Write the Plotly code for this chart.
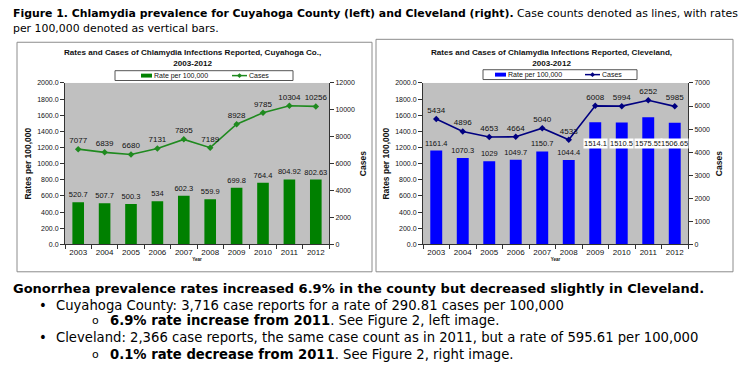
import plotly.graph_objects as go

# ---------------- data ----------------
YEARS = ["2003", "2004", "2005", "2006", "2007", "2008", "2009", "2010", "2011", "2012"]
CUY_RATE = [520.7, 507.7, 500.3, 534, 602.3, 559.9, 699.8, 764.4, 804.92, 802.63]
CUY_CASES = [7077, 6839, 6680, 7131, 7805, 7189, 8928, 9785, 10304, 10256]
CLE_RATE = [1161.4, 1070.3, 1029, 1049.7, 1150.7, 1044.4, 1514.1, 1510.5, 1575.55, 1506.65]
CLE_CASES = [5434, 4896, 4653, 4664, 5040, 4533, 6008, 5994, 6252, 5985]
RATE_TICKS = [0, 200, 400, 600, 800, 1000, 1200, 1400, 1600, 1800, 2000]
CUY_CASE_TICKS = [0, 2000, 4000, 6000, 8000, 10000, 12000]
CLE_CASE_TICKS = [0, 1000, 2000, 3000, 4000, 5000, 6000, 7000]

# ---------------- layout helpers ----------------
W, H = 745, 367
FONT = "Liberation Sans, Arial, sans-serif"
DOC = "DejaVu Sans, Verdana, sans-serif"
BOXED_FROM = "2009"       # Cleveland bar labels drawn in white boxes from this year
BOXED_LABEL_LEVEL = 1245  # rate level where those boxed labels sit


def fx(p):
    return p / W


def fy(p):
    return 1 - p / H


def lbl(v):
    return f"{v:g}"


GREEN_BAR = "#008000"
GREEN_LINE = "#1f8a1f"
BLUE_BAR = "#0000FF"
NAVY_LINE = "#000080"
AX = "#333333"

fig = go.Figure()

# Cuyahoga bars + line
fig.add_bar(x=YEARS, y=CUY_RATE, xaxis="x", yaxis="y", width=0.44,
            marker=dict(color=GREEN_BAR, line_width=0),
            text=[lbl(v) for v in CUY_RATE], textposition="outside",
            constraintext="none", cliponaxis=False,
            textfont=dict(size=7.5, color="#111", family=FONT), showlegend=False)
fig.add_scatter(x=YEARS, y=CUY_CASES, xaxis="x", yaxis="y2",
                mode="lines+markers+text",
                line=dict(color=GREEN_LINE, width=1.6),
                marker=dict(symbol="diamond", size=5, color=GREEN_LINE),
                text=[lbl(v) for v in CUY_CASES], textposition="top center",
                textfont=dict(size=8, color="#111", family=FONT),
                cliponaxis=False, showlegend=False)

# Cleveland bars + line
boxed = [y >= BOXED_FROM for y in YEARS]
fig.add_bar(x=YEARS, y=CLE_RATE, xaxis="x2", yaxis="y3", width=0.45,
            marker=dict(color=BLUE_BAR, line_width=0),
            text=["" if b else lbl(v) for v, b in zip(CLE_RATE, boxed)],
            textposition="outside", constraintext="none", cliponaxis=False,
            textfont=dict(size=7.5, color="#111", family=FONT), showlegend=False)
fig.add_scatter(x=YEARS, y=CLE_CASES, xaxis="x2", yaxis="y4",
                mode="lines+markers+text",
                line=dict(color=NAVY_LINE, width=1.6),
                marker=dict(symbol="diamond", size=5, color=NAVY_LINE),
                text=[lbl(v) for v in CLE_CASES], textposition="top center",
                textfont=dict(size=8, color="#111", family=FONT),
                cliponaxis=False, showlegend=False)

annotations = []
for i, (v, b) in enumerate(zip(CLE_RATE, boxed)):
    if b:
        # category axes take the category's serial index as annotation position
        annotations.append(dict(xref="x2", yref="y3", x=i, y=BOXED_LABEL_LEVEL,
                                text=lbl(v), showarrow=False, bgcolor="white",
                                borderpad=0, font=dict(size=7.5, color="#111", family=FONT)))

CAT_RANGE = [-0.5, len(YEARS) - 0.5]


def xax(domain, anchor):
    return dict(domain=domain, anchor=anchor, type="category", range=CAT_RANGE,
                tickson="boundaries", tickangle=0,
                ticks="outside", ticklen=4, tickcolor=AX, showline=True, linecolor=AX,
                linewidth=1, showgrid=False, zeroline=False,
                tickfont=dict(size=8, color="#111", family=FONT),
                title=dict(text="<b>Year</b>", font=dict(size=4.5, family=FONT), standoff=1))


def yax_left(domain, anchor):
    return dict(domain=domain, anchor=anchor, range=[0, 2000], tickvals=RATE_TICKS,
                tickformat=".1f", ticks="outside", ticklen=4, tickcolor=AX,
                showline=True, linecolor=AX, linewidth=1, showgrid=False, zeroline=False,
                tickfont=dict(size=7, color="#111", family=FONT),
                title=dict(text="<b>Rates per 100,000</b>", font=dict(size=8.5, color="#111", family=FONT), standoff=4))


def yax_right(over, anchor, rng, ticks):
    return dict(overlaying=over, side="right", anchor=anchor, range=rng, tickvals=ticks,
                tickformat="d",
                ticks="outside", ticklen=4, tickcolor=AX, showline=True, linecolor=AX,
                linewidth=1, showgrid=False, zeroline=False,
                tickfont=dict(size=7, color="#111", family=FONT),
                title=dict(text="<b>Cases</b>", font=dict(size=8.5, color="#111", family=FONT), standoff=6))


ydom = [fy(245), fy(80.5)]

shapes = [
    dict(type="rect", xref="paper", yref="paper", x0=fx(17), x1=fx(372), y0=fy(273), y1=fy(39),
         line=dict(color="#8c8c8c", width=1)),
    dict(type="rect", xref="paper", yref="paper", x0=fx(376), x1=fx(733), y0=fy(273), y1=fy(36),
         line=dict(color="#8c8c8c", width=1)),
]


def legend(x0, x1, y0, y1, bar_color, line_color, bar_x, line_x):
    cy = (y0 + y1) / 2
    shapes.append(dict(type="rect", xref="paper", yref="paper", x0=fx(x0), x1=fx(x1),
                       y0=fy(y1), y1=fy(y0), line=dict(color="#555", width=1), fillcolor="white"))
    shapes.append(dict(type="rect", xref="paper", yref="paper", x0=fx(bar_x), x1=fx(bar_x + 11),
                       y0=fy(cy + 2), y1=fy(cy - 2), line=dict(width=0), fillcolor=bar_color))
    shapes.append(dict(type="line", xref="paper", yref="paper", x0=fx(line_x), x1=fx(line_x + 15),
                       y0=fy(cy), y1=fy(cy), line=dict(color=line_color, width=1.5)))
    mx = line_x + 7.5
    d = 2.5
    shapes.append(dict(type="path", xref="paper", yref="paper",
                       path=f"M {fx(mx)},{fy(cy - d)} L {fx(mx + d)},{fy(cy)} L {fx(mx)},{fy(cy + d)} L {fx(mx - d)},{fy(cy)} Z",
                       fillcolor=line_color, line=dict(width=0)))
    annotations.append(dict(xref="paper", yref="paper", x=fx(bar_x + 11), y=fy(cy), xanchor="left",
                            yanchor="middle", text="Rate per 100,000", showarrow=False,
                            font=dict(size=7, color="#111", family=FONT)))
    annotations.append(dict(xref="paper", yref="paper", x=fx(line_x + 15), y=fy(cy), xanchor="left",
                            yanchor="middle", text="Cases", showarrow=False,
                            font=dict(size=7, color="#111", family=FONT)))


legend(115, 293, 68, 78, GREEN_BAR, GREEN_LINE, 141, 232)
legend(483, 637, 67, 77, BLUE_BAR, NAVY_LINE, 495, 585)

# chart titles
annotations.append(dict(xref="paper", yref="paper", x=fx(192), y=fy(55), xanchor="center", yanchor="middle",
                        text="<b>Rates and Cases of Chlamydia Infections Reported, Cuyahoga Co.,<br>2003-2012</b>",
                        showarrow=False, font=dict(size=8.1, color="#111", family=FONT)))
annotations.append(dict(xref="paper", yref="paper", x=fx(551), y=fy(55), xanchor="center", yanchor="middle",
                        text="<b>Rates and Cases of Chlamydia Infections Reported, Cleveland,<br>2003-2012</b>",
                        showarrow=False, font=dict(size=8.1, color="#111", family=FONT)))


def doc(x, y, text, size, bold=False):
    annotations.append(dict(xref="paper", yref="paper", x=fx(x), y=fy(y), xanchor="left", yanchor="middle",
                            text=f"<b>{text}</b>" if bold else text, showarrow=False, align="left",
                            borderpad=0, font=dict(size=size, color="#000", family=DOC)))


doc(12, 10, "<b>Figure 1. Chlamydia prevalence for Cuyahoga County (left) and Cleveland (right).</b> "
            "Case counts denoted as lines, with rates", 10.9)
doc(12, 25, "per 100,000 denoted as vertical bars.", 10.9)
doc(12, 290, "Gonorrhea prevalence rates increased 6.9% in the county but decreased slightly in Cleveland.", 13, bold=True)
doc(38, 307, "•", 13.2)
doc(55, 307, "Cuyahoga County: 3,716 case reports for a rate of 290.81 cases per 100,000", 13.2)
doc(91, 323, "o", 11)
doc(109, 323, "<b>6.9% rate increase from 2011</b>. See Figure 2, left image.", 13.2)
doc(38, 340, "•", 13.2)
doc(55, 340, "Cleveland: 2,366 case reports, the same case count as in 2011, but a rate of 595.61 per 100,000", 13.2)
doc(91, 357, "o", 11)
doc(109, 357, "<b>0.1% rate decrease from 2011</b>. See Figure 2, right image.", 13.2)

fig.update_layout(
    width=W, height=H, margin=dict(l=0, r=0, t=0, b=0),
    paper_bgcolor="white", plot_bgcolor="#C0C0C0", bargap=0.5,
    font=dict(family=FONT, color="#111"), showlegend=False,
    xaxis=xax([fx(65), fx(329)], "y"),
    yaxis=yax_left(ydom, "x"),
    yaxis2=yax_right("y", "x", [0, 12000], CUY_CASE_TICKS),
    xaxis2=xax([fx(423), fx(688)], "y3"),
    yaxis3=yax_left(ydom, "x2"),
    yaxis4=yax_right("y3", "x2", [0, 7000], CLE_CASE_TICKS),
    shapes=shapes, annotations=annotations,
)

fig.write_html("out.html", config={"displayModeBar": False},
               post_script="document.body.style.margin='0';document.body.style.overflow='hidden';")
